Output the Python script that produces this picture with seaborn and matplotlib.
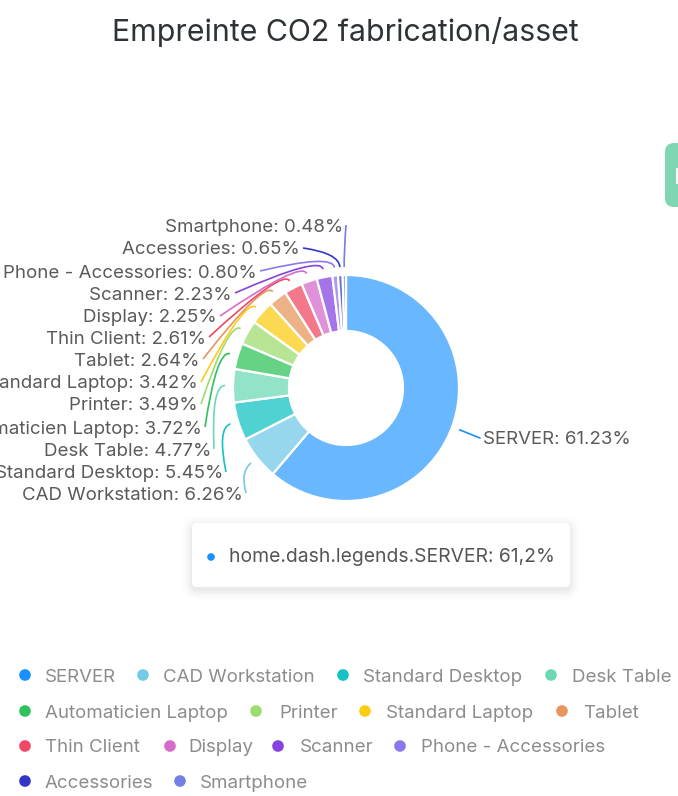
import numpy as np
import pandas as pd
import matplotlib
matplotlib.use("Agg")
import matplotlib.pyplot as plt
import matplotlib.colors as mcolors
from matplotlib.patches import FancyBboxPatch, PathPatch, Rectangle
from matplotlib.path import Path
import seaborn as sns

# ---------------- data ----------------
title = "Empreinte CO2 fabrication/asset"
categories = ["SERVER", "CAD Workstation", "Standard Desktop", "Desk Table",
              "Automaticien Laptop", "Printer", "Standard Laptop", "Tablet",
              "Thin Client", "Display", "Scanner", "Phone - Accessories",
              "Accessories", "Smartphone"]
shares = [61.23, 6.26, 5.45, 4.77, 3.72, 3.49, 3.42, 2.64, 2.61, 2.25, 2.23,
          0.80, 0.65, 0.48]
palette_hex = ["#1890FF", "#73C9E6", "#13C2C2", "#6CD9B3", "#2FC25B", "#9CDC6F",
               "#FACC14", "#E6965C", "#F04864", "#D66BCA", "#8543E0", "#8E77ED",
               "#3436C7", "#737EE6"]
tooltip_text = "home.dash.legends.SERVER: 61,2%"

# ---------------- layout (pixels) ----------------
W, H = 678, 796
CX, CY, R, RIN = 346, 388, 113, 57
label_right_x = [243, 223, 211, 202, 198, 198, 200, 206, 217, 232, 257, 300, 343]
label_y = [493, 472, 449, 427, 404, 382, 359, 337, 316, 293, 271, 248, 225]
server_label = (483, 438)
legend_rows = [[(0, 25, 45), (1, 143, 163), (2, 343, 363), (3, 551, 572)],
               [(4, 25, 45), (5, 256, 279), (6, 365, 386), (7, 562, 583)],
               [(8, 25, 45), (9, 170, 188), (10, 278, 300), (11, 400, 421)],
               [(12, 25, 45), (13, 180, 200)]]
legend_y = [676, 712, 747, 782]
TEXT_DY = 2  # text baseline correction

sns.set_theme(style="white")
plt.rcParams["font.family"] = ["Inter", "DejaVu Sans"]

def Y(y):
    return H - y

def fs(px):
    return px * 0.72

def soften(c, a=0.74):
    r, g, b = mcolors.to_rgb(c)
    return (r * a + (1 - a), g * a + (1 - a), b * a + (1 - a))

fig = plt.figure(figsize=(W / 100, H / 100), dpi=100)
ax = fig.add_axes([0, 0, 1, 1])

slice_colors = [soften(c) for c in palette_hex]
slice_colors[0] = soften(palette_hex[0], 0.65)
ax.pie(shares, colors=slice_colors, startangle=90, counterclock=False,
       radius=R, center=(CX, Y(CY)), frame=True,
       wedgeprops=dict(width=R - RIN, edgecolor="white", linewidth=1.6))

ax.set_xlim(0, W)
ax.set_ylim(0, H)
ax.set_aspect("equal", adjustable="box")
ax.axis("off")

# title
ax.text(345, Y(30 + TEXT_DY), title, ha="center", va="center",
        fontsize=fs(30.3), color="#2e3338")

# leader lines and labels
cum = np.cumsum([0] + shares)
label_color = "#5a5a5a"
LFS = fs(18.7)
for i, (name, v) in enumerate(zip(categories, shares)):
    mid = (cum[i] + v / 2) / 100 * 2 * np.pi
    ox, oy = np.sin(mid), -np.cos(mid)
    ex, ey = CX + (R + 8) * ox, CY + (R + 8) * oy
    txt = f"{name}: {v:.2f}%"
    if i == 0:
        sx, sy = server_label
        ax.plot([ex, sx - 3], [Y(ey), Y(sy)], color=palette_hex[i], lw=1.2)
        ax.text(sx, Y(sy + TEXT_DY), txt, ha="left", va="center", fontsize=LFS,
                color=label_color)
        continue
    lx, ly = label_right_x[i - 1], label_y[i - 1]
    p0 = np.array([lx + 3, ly])
    p3 = np.array([ex, ey])
    k = 14
    c = p3 + k * np.array([ox, oy])
    verts = [(p0[0], Y(p0[1])), (c[0], Y(c[1])), (p3[0], Y(p3[1]))]
    path = Path(verts, [Path.MOVETO, Path.CURVE3, Path.CURVE3])
    ax.add_patch(PathPatch(path, fill=False, edgecolor=palette_hex[i], lw=1.2))
    ax.text(lx, Y(ly + TEXT_DY), txt, ha="right", va="center", fontsize=LFS,
            color=label_color)

# tooltip with soft shadow
tx, ty, tw, th = 192, 523, 378, 64
for j, a in enumerate([0.022, 0.018, 0.014, 0.01, 0.007, 0.005]):
    g = 1 + j * 2
    ax.add_patch(FancyBboxPatch((tx - g, Y(ty + th) - g - 3), tw + 2 * g, th + 2 * g,
                                boxstyle="round,pad=0,rounding_size=%d" % (6 + g),
                                facecolor="black", edgecolor="none", alpha=a))
ax.add_patch(FancyBboxPatch((tx, Y(ty + th)), tw, th,
                            boxstyle="round,pad=0,rounding_size=5",
                            facecolor="white", edgecolor="none"))
sns.scatterplot(x=[211], y=[Y(557)], color=palette_hex[0], s=30,
                edgecolor="none", ax=ax, legend=False)
ax.text(229, Y(555 + TEXT_DY), tooltip_text, ha="left", va="center",
        fontsize=fs(19.3), color="#555555")

# green side tab
ax.add_patch(FancyBboxPatch((665, Y(207)), 30, 64,
                            boxstyle="round,pad=0,rounding_size=9",
                            facecolor="#80d6b3", edgecolor="none"))
ax.add_patch(Rectangle((676, Y(184)), 3, 16, facecolor="white", edgecolor="none"))

# legend
lx_dots, ly_dots, lc = [], [], []
for row, yy in zip(legend_rows, legend_y):
    for idx, dx, tx_ in row:
        lx_dots.append(dx)
        ly_dots.append(Y(yy - 1))
        lc.append(palette_hex[idx])
        ax.text(tx_, Y(yy + TEXT_DY - 1), categories[idx], ha="left", va="center",
                fontsize=LFS, color="#8c8c8c")
sns.scatterplot(x=lx_dots, y=ly_dots, hue=list(range(len(lc))), palette=lc,
                s=70, edgecolor="none", ax=ax, legend=False)

ax.set_xlim(0, W)
ax.set_ylim(0, H)
fig.savefig("out.png", dpi=100)
